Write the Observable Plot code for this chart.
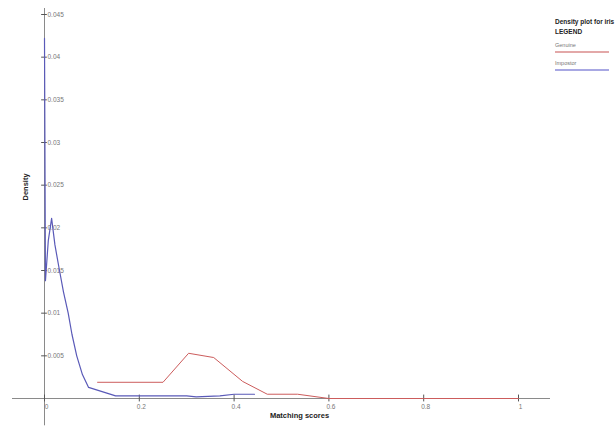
<!DOCTYPE html>
<html>
<head>
<meta charset="utf-8">
<script src="https://cdn.jsdelivr.net/npm/d3@7"></script>
<script src="https://cdn.jsdelivr.net/npm/@observablehq/plot@0.6"></script>
<style>
  html, body { margin: 0; padding: 0; background: #fff; }
  #wrap { position: relative; width: 616px; height: 426px; font-family: "Liberation Sans", Arial, sans-serif; }
  #legend { position: absolute; left: 555px; top: 17px; width: 60px; }
  #legend .t { font-size: 6.5px; font-weight: bold; color: #222; line-height: 10px; white-space: nowrap; }
  #legend .s { font-size: 5.5px; color: #777; margin-top: 2px; }
  #legend .ln { height: 0; width: 54px; margin-top: 3px; }
</style>
</head>
<body>
<div id="wrap">
  <div id="chart"></div>
  <div id="legend"></div>
</div>
<script>
// Data
const impostorX = [0, 0.002, 0.008, 0.015, 0.022, 0.03, 0.04, 0.05, 0.058, 0.068, 0.08, 0.093, 0.15, 0.3, 0.32, 0.37, 0.4, 0.443];
const impostorY = [0.0422, 0.0138, 0.0185, 0.0211, 0.018, 0.0155, 0.0125, 0.0100, 0.0075, 0.005, 0.0028, 0.0013, 0.0003, 0.0003, 0.0002, 0.0003, 0.0005, 0.0005];
const genuineX = [0.112, 0.25, 0.304, 0.357, 0.418, 0.47, 0.534, 0.6, 0.8, 1.0];
const genuineY = [0.0019, 0.0019, 0.0053, 0.0048, 0.002, 0.0005, 0.0005, 0, 0, 0];
const xTicks = [0, 0.2, 0.4, 0.6, 0.8, 1];
const xTickLabels = ["0", "0.2", "0.4", "0.6", "0.8", "1"];
const yTicks = [0.005, 0.01, 0.015, 0.02, 0.025, 0.03, 0.035, 0.04, 0.045];
const yTickLabels = ["0.005", "0.01", "0.015", "0.02", "0.025", "0.03", "0.035", "0.04", "0.045"];
const seriesNames = ["Genuine", "Impostor"];
const seriesColors = ["#cc5c5c", "#5a5ab8"];
const legendColors = ["#e3a8a8", "#a8a8e3"];
const title = ["Density plot for iris", "LEGEND"];

const impostor = impostorX.map((x, i) => ({x, y: impostorY[i]}));
const genuine = genuineX.map((x, i) => ({x, y: genuineY[i]}));
const xt = xTicks.map((v, i) => ({v, label: xTickLabels[i]}));
const yt = yTicks.map((v, i) => ({v, label: yTickLabels[i]}));

const axisColor = "#8a8a8a";
const font = "Liberation Sans, Arial, sans-serif";

const plot = Plot.plot({
  width: 616,
  height: 426,
  marginLeft: 44,
  marginRight: 98,
  marginTop: 14,
  marginBottom: 28,
  style: {fontFamily: font, background: "#fff", overflow: "visible"},
  x: {domain: [0, 1], axis: null},
  y: {domain: [0, 0.045], axis: null},
  marks: [
    // axis lines extending beyond the plot area
    Plot.ruleY([0], {x1: -0.0675, x2: 1.0675, stroke: axisColor, strokeWidth: 1, clip: false}),
    Plot.ruleX([0], {y1: -0.0032, y2: 0.0457, stroke: axisColor, strokeWidth: 1, clip: false}),
    // x ticks
    Plot.ruleX(xt, {x: "v", y1: -0.0004, y2: 0.0004, stroke: "#555", strokeWidth: 1}),
    Plot.text(xt, {x: "v", y: 0, text: "label", dy: 8, dx: 2, fontSize: 6.5, fill: "#777", textAnchor: "middle"}),
    // y ticks
    Plot.ruleY(yt, {y: "v", x1: -0.006, x2: 0.006, stroke: "#555", strokeWidth: 1}),
    Plot.text(yt, {x: 0, y: "v", text: "label", dx: 3, fontSize: 6.5, fill: "#777", textAnchor: "start"}),
    // series
    Plot.line(genuine, {x: "x", y: "y", stroke: seriesColors[0], strokeWidth: 1}),
    Plot.line(impostor, {x: "x", y: "y", stroke: seriesColors[1], strokeWidth: 1.2}),
    // axis titles
    Plot.text(["Matching scores"], {frameAnchor: "bottom", dx: 18, dy: 19, fontSize: 7.5, fontWeight: "bold", fill: "#222"}),
    Plot.text(["Density"], {frameAnchor: "left", dx: -19, dy: -6, rotate: -90, fontSize: 7.5, fontWeight: "bold", fill: "#222"})
  ]
});
document.getElementById("chart").appendChild(plot);

// Legend
const lg = document.getElementById("legend");
title.forEach(t => {
  const d = document.createElement("div");
  d.className = "t"; d.textContent = t; lg.appendChild(d);
});
seriesNames.forEach((n, i) => {
  const s = document.createElement("div");
  s.className = "s"; s.textContent = n;
  s.style.marginTop = i === 0 ? "5px" : "7px";
  lg.appendChild(s);
  const l = document.createElement("div");
  l.className = "ln"; l.style.borderTop = "2px solid " + legendColors[i];
  lg.appendChild(l);
});
</script>
</body>
</html>
